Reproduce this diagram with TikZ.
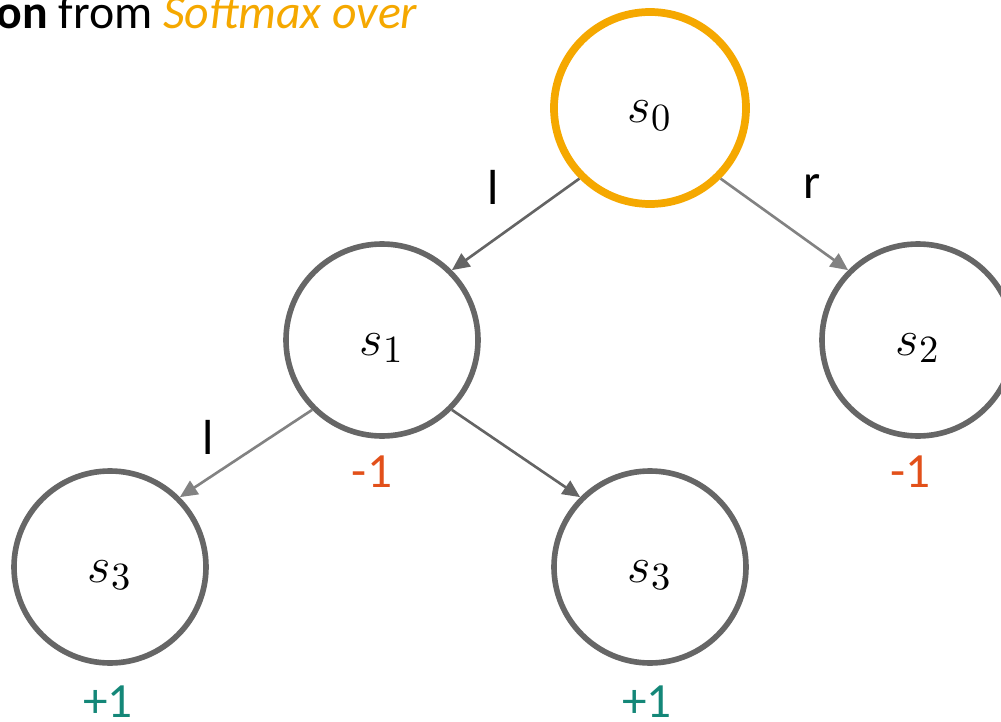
\documentclass[tikz,border=0pt]{standalone}
\usepackage{fontspec}
\setmainfont{Carlito}
\usetikzlibrary{arrows.meta}
\definecolor{gold}{RGB}{245,168,0}
\definecolor{loss}{RGB}{226,80,26}
\definecolor{win}{RGB}{20,135,120}
\definecolor{ring}{RGB}{102,102,102}
\definecolor{edgedark}{RGB}{100,100,100}
\definecolor{edgelight}{RGB}{130,130,130}
\newcommand{\statename}[1]{\raisebox{-0.15cm}[0pt][0pt]{$s_{#1}$}}
\tikzset{
  state/.style={circle, draw=ring, line width=1.6pt, minimum size=1.92cm, inner sep=0pt,
    font=\fontsize{15}{18}\selectfont},
  root/.style={state, draw=gold, line width=2.2pt},
  move/.style={edgedark, line width=0.75pt, -{Triangle[length=5pt,width=4.5pt]}},
  movelight/.style={move, edgelight},
  act/.style={font=\fontsize{14}{17}\selectfont},
  val/.style={font=\fontsize{14}{17}\selectfont},
}

\begin{document}
\begin{tikzpicture}
\useasboundingbox (0,0) rectangle (10.01,7.21);
\clip (0,0) rectangle (10.01,7.21);
\node[anchor=base west, font=\fontsize{13.6}{16}\selectfont] (title) at (-0.16,6.92)
  {\textbf{on} from \textcolor{gold}{\textit{Softmax over}}};
\node[root] (s0) at (6.50,6.13) {\statename{0}};
\node[state] (s1) at (3.82,3.81) {\statename{1}};
\node[state] (s2) at (9.18,3.81) {\statename{2}};
\node[state] (s3a) at (1.10,1.54) {\statename{3}};
\node[state] (s3b) at (6.50,1.54) {\statename{3}};
\draw[move] (s0.south west) -- (s1.north east);
\draw[movelight] (s0.south east) -- (s2.north west);
\draw[movelight] (s1.south west) -- (s3a.north east);
\draw[move] (s1.south east) -- (s3b.north west);
\node[act] (l0) at (4.93,5.34) {l};
\node[act] (r0) at (8.12,5.34) {r};
\node[act] (l1) at (2.08,2.84) {l};
\node[val, text=loss] (v1) at (3.72,2.49) {-1};
\node[val, text=loss] (v2) at (9.10,2.49) {-1};
\node[val, text=win] (v3a) at (1.08,0.19) {+1};
\node[val, text=win] (v3b) at (6.47,0.19) {+1};
\end{tikzpicture}
\end{document}
